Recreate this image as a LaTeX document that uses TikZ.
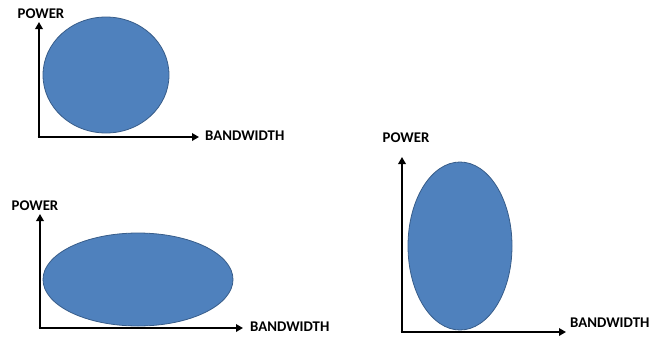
\documentclass[tikz,border=0pt]{standalone}
\usepackage{fontspec}
\setmainfont{Carlito}
\usetikzlibrary{arrows.meta}
\definecolor{fillblue}{HTML}{4F81BD}
\definecolor{edgeblue}{HTML}{385D8A}
\tikzset{
  axis/.style={line width=2.6pt, -{Triangle[length=7pt,width=7.5pt]}},
  blob/.style={fill=fillblue, draw=edgeblue, line width=0.8pt},
  lbl/.style={font=\fontsize{14.8}{16}\selectfont\bfseries, inner sep=0pt, text=black}
}
\begin{document}
\begin{tikzpicture}[x=1pt,y=-1pt]
\useasboundingbox (0,0) rectangle (664,338);
% diagram 1
\coordinate (o1) at (39,137);
\coordinate (y1) at (39,22);
\coordinate (x1) at (199,137);
\fill[blob] (106,75) ellipse [x radius=63, y radius=58];
\draw[axis] (o1) -- (y1);
\draw[axis] ([xshift=-1.3pt]o1) -- (x1);
\node[lbl] (p1) at (41,14) {POWER};
\node[lbl, anchor=west] (b1) at (205,136) {BANDWIDTH};
% diagram 2
\coordinate (o2) at (40,328);
\coordinate (y2) at (40,214);
\coordinate (x2) at (243,328);
\fill[blob] (138,279.5) ellipse [x radius=95, y radius=46.5];
\draw[axis] (o2) -- (y2);
\draw[axis] ([xshift=-1.3pt]o2) -- (x2);
\node[lbl] (p2) at (35,206) {POWER};
\node[lbl, anchor=west] (b2) at (250,327) {BANDWIDTH};
% diagram 3
\coordinate (o3) at (402,332);
\coordinate (y3) at (402,157);
\coordinate (x3) at (566,332);
\fill[blob] (460,246) ellipse [x radius=52, y radius=84];
\draw[axis] (o3) -- (y3);
\draw[axis] ([xshift=-1.3pt]o3) -- (x3);
\node[lbl] (p3) at (406,138) {POWER};
\node[lbl, anchor=west] (b3) at (570,323) {BANDWIDTH};
\end{tikzpicture}
\end{document}
